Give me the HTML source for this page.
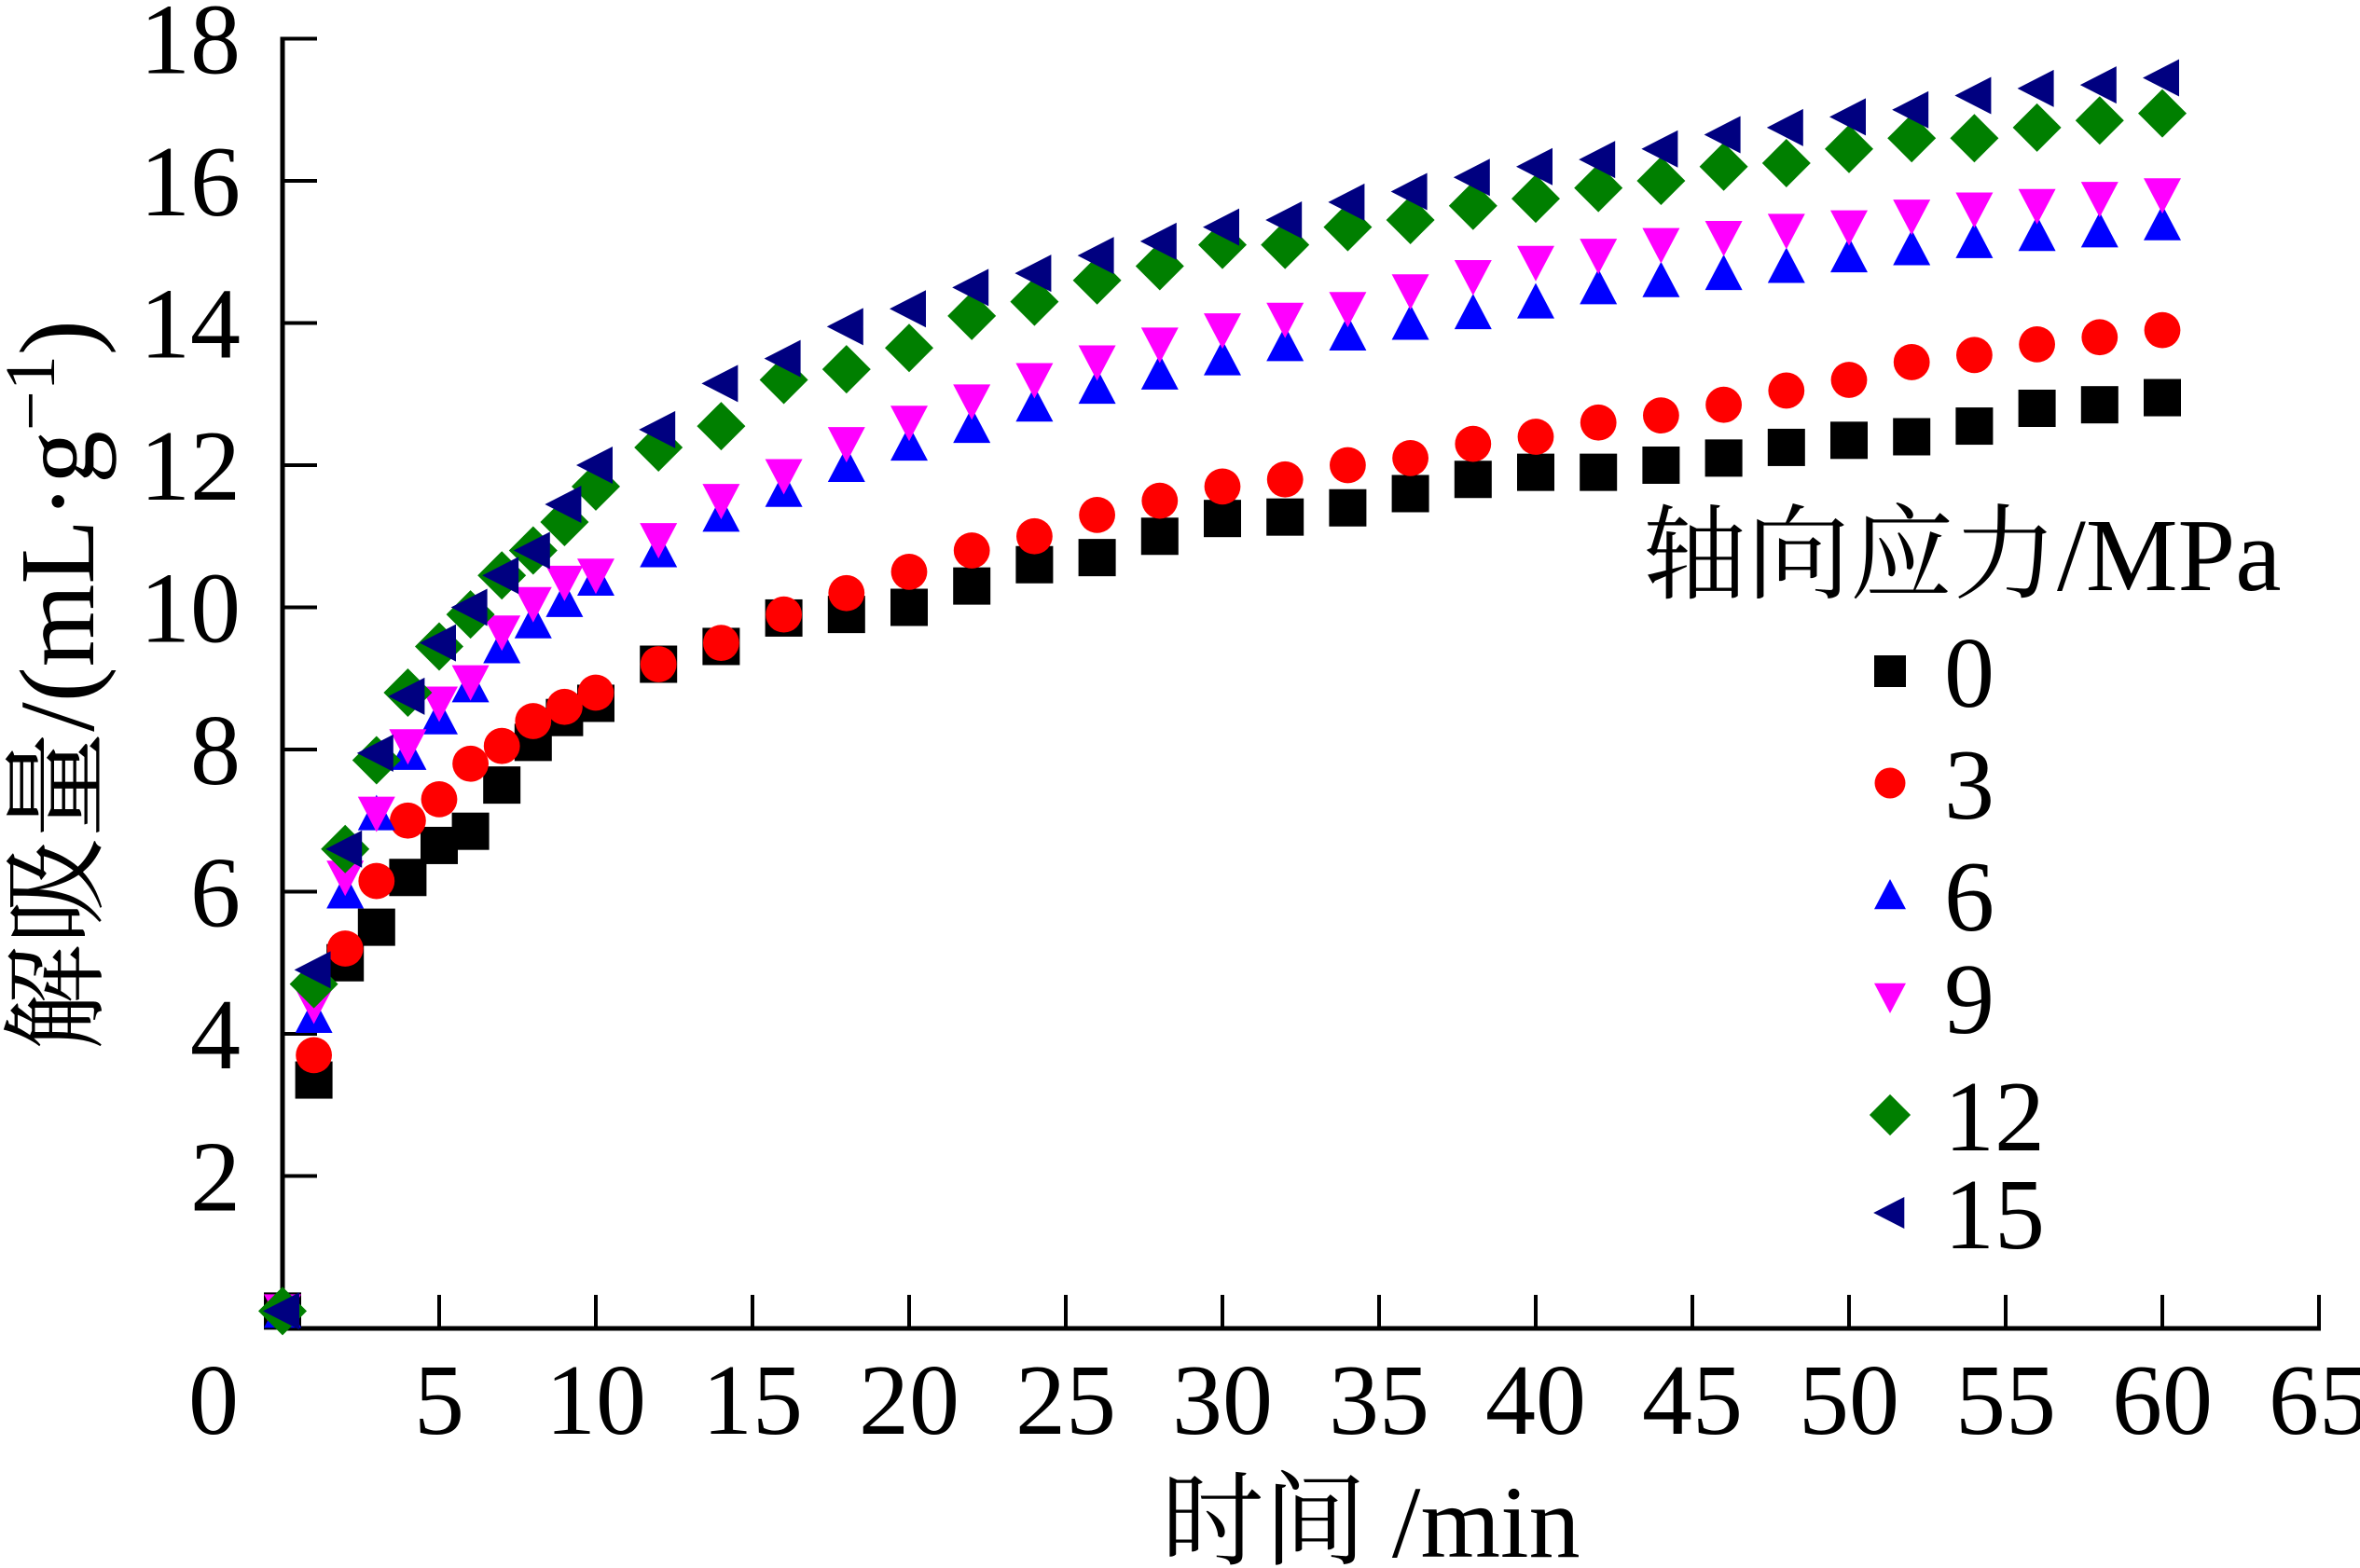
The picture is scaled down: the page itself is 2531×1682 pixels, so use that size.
<!DOCTYPE html>
<html><head><meta charset="utf-8"><style>
html,body{margin:0;padding:0;background:#fff;}
svg{display:block;}
text{font-family:"Liberation Serif","Noto Serif CJK SC","Noto Sans CJK SC",serif;fill:#000;}
</style></head><body>
<svg id="chart" width="2531" height="1682" viewBox="0 0 2531 1682" xmlns="http://www.w3.org/2000/svg">
<g id="axes"></g>
<g id="marks"></g>
<g id="legend"></g>
</svg>
<script>
const times = [0,1,2,3,4,5,6,7,8,9,10,12,14,16,18,20,22,24,26,28,30,32,34,36,38,40,42,44,46,48,50,52,54,56,58,60];
const s0  = [0.1,3.35,5.0,5.5,6.2,6.65,6.85,7.5,8.1,8.45,8.65,9.2,9.45,9.85,9.9,10.0,10.3,10.6,10.7,11.0,11.25,11.27,11.4,11.6,11.8,11.9,11.9,12.0,12.1,12.25,12.35,12.4,12.55,12.8,12.85,12.95];
const s3  = [0.1,3.7,5.2,6.15,7.0,7.3,7.8,8.05,8.4,8.6,8.8,9.2,9.5,9.9,10.2,10.5,10.8,11.0,11.3,11.5,11.7,11.8,12.0,12.1,12.3,12.4,12.6,12.7,12.85,13.05,13.2,13.45,13.55,13.7,13.8,13.9];
const s6  = [0.1,4.25,6.0,7.1,7.95,8.45,8.9,9.45,9.8,10.1,10.4,10.8,11.3,11.65,12.0,12.3,12.55,12.85,13.1,13.3,13.5,13.7,13.85,14.0,14.15,14.3,14.5,14.6,14.7,14.8,14.95,15.05,15.15,15.25,15.3,15.4];
const s9  = [0.1,4.4,6.2,7.1,8.05,8.65,8.95,9.65,10.05,10.35,10.45,10.95,11.5,11.85,12.3,12.6,12.9,13.2,13.45,13.7,13.9,14.05,14.2,14.45,14.65,14.85,14.95,15.1,15.2,15.3,15.35,15.5,15.6,15.65,15.75,15.8];
const s12 = [0.1,4.7,6.6,7.85,8.8,9.45,9.9,10.45,10.8,11.2,11.7,12.25,12.55,13.2,13.35,13.65,14.1,14.3,14.6,14.8,15.1,15.1,15.35,15.45,15.65,15.75,15.9,16.0,16.2,16.25,16.45,16.6,16.6,16.75,16.85,16.95];
const s15 = [0.1,4.9,6.6,7.95,8.75,9.5,10.0,10.45,10.8,11.45,12.0,12.5,13.15,13.5,13.95,14.2,14.5,14.7,14.95,15.15,15.35,15.45,15.7,15.85,16.05,16.2,16.3,16.45,16.65,16.75,16.9,17.0,17.2,17.3,17.35,17.45];
const seriesNames = ["0","3","6","9","12","15"];
const xTicks = [5,10,15,20,25,30,35,40,45,50,55,60,65];
const yTicks = [2,4,6,8,10,12,14,16,18];

const NS="http://www.w3.org/2000/svg";
const X0=303, XU=33.6, Y0=1414, YU=76.25;
function xs(v){return X0+v*XU;}
function ys(v){return Y0-v*YU;}
function mk(tag,attrs,parent){const e=document.createElementNS(NS,tag);for(const k in attrs)e.setAttribute(k,attrs[k]);parent.appendChild(e);return e;}

const axes=document.getElementById('axes');
let e;
e=mk('line',{x1:X0,y1:ys(18)-2,x2:X0,y2:1427,stroke:'#000','stroke-width':5},axes);


e=mk('line',{x1:X0-2,y1:1425,x2:xs(65)+2,y2:1425,stroke:'#000','stroke-width':5},axes);


xTicks.forEach(t=>{
  let l=mk('line',{x1:xs(t),y1:1425,x2:xs(t),y2:1389,stroke:'#000','stroke-width':4},axes);
  
  
  let tx=mk('text',{x:xs(t),y:1538,'font-size':108,'text-anchor':'middle'},axes);
  tx.textContent=t;
  
  
});
yTicks.forEach(t=>{
  let l=mk('line',{x1:X0,y1:ys(t),x2:X0+37,y2:ys(t),stroke:'#000','stroke-width':4},axes);
  
  
  let tx=mk('text',{x:258,y:ys(t)+37,'font-size':108,'text-anchor':'end'},axes);
  tx.textContent=t;
  
  
});
e=mk('text',{x:229,y:1538,'font-size':108,'text-anchor':'middle'},axes);
e.textContent='0';


e=mk('text',{x:1470,y:1670,'font-size':110,'text-anchor':'middle'},axes);
e.textContent='时间 /min';


e=mk('text',{x:0,y:0,'font-size':114,'text-anchor':'middle',transform:'translate(100,735) rotate(-90)'},axes);
e.innerHTML='解吸量/(mL·g<tspan dy="-42" font-size="76">−1</tspan><tspan dy="42">)</tspan>';



const colors=['#000000','#ff0000','#0000ff','#ff00ff','#007f00','#000080'];
function marker(type,cx,cy,s,parent){
  const c=colors[type];
  const h=s/2;
  if(type===0) return mk('rect',{x:cx-h,y:cy-h,width:s,height:s,fill:c},parent);
  if(type===1) return mk('circle',{cx:cx,cy:cy,r:h*0.97,fill:c},parent);
  if(type===2) return mk('polygon',{points:`${cx},${cy-h} ${cx+h},${cy+h*0.9} ${cx-h},${cy+h*0.9}`,fill:c},parent);
  if(type===3) return mk('polygon',{points:`${cx-h},${cy-h*0.9} ${cx+h},${cy-h*0.9} ${cx},${cy+h}`,fill:c},parent);
  if(type===4){const d=h*1.3;return mk('polygon',{points:`${cx},${cy-d} ${cx+d},${cy} ${cx},${cy+d} ${cx-d},${cy}`,fill:c},parent);}
  return mk('polygon',{points:`${cx-h*1.05},${cy} ${cx+h*0.9},${cy-h} ${cx+h*0.9},${cy+h}`,fill:c},parent);
}
const marks=document.getElementById('marks');
[s0,s3,s6,s9,s12,s15].forEach((arr,i)=>{
  const g=mk('g',{},marks);
  
  
  arr.forEach((v,j)=>{
    const m=marker(i,xs(times[j]),ys(v),40,g);
    
    
  });
});

const legend=document.getElementById('legend');
e=mk('text',{x:1762,y:633,'font-size':111},legend);
e.textContent='轴向应力/MPa';


const legY=[720,840,960,1070,1196,1301];
seriesNames.forEach((n,i)=>{
  const g=mk('g',{},legend);
  
  
  marker(i,2027,legY[i],34,g);
  const t=mk('text',{x:2085,y:legY[i]+38,'font-size':108},g);
  t.textContent=n;
});
</script>
</body></html>
